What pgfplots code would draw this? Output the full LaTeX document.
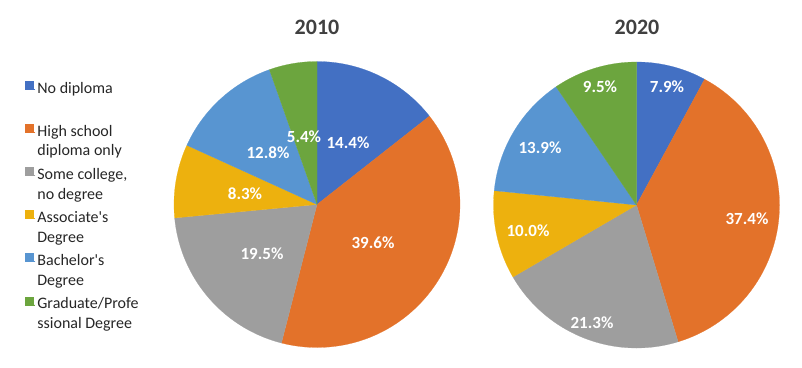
\documentclass[border=0pt]{standalone}
\usepackage{pgfplots}
\usepackage{pgfplotstable}
\pgfplotsset{compat=1.18}
\usepackage{fontspec}
\setmainfont{Carlito}
\definecolor{cNo}{HTML}{4370C3}
\definecolor{cHS}{HTML}{E3722A}
\definecolor{cSC}{HTML}{9E9E9E}
\definecolor{cAs}{HTML}{EDB10E}
\definecolor{cBa}{HTML}{5895D1}
\definecolor{cGr}{HTML}{6CA53E}
\definecolor{titlegray}{HTML}{404040}
\definecolor{legtext}{HTML}{262626}

% label positions (pixels) and values
\pgfplotstableread{
x   y   v
348 143 14.4
373 243 39.6
262 254 19.5
245 194 8.3
268 153 12.8
304 137 5.4
}\labA
\pgfplotstableread{
x   y   v
667 87  7.9
747 219 37.4
592 323 21.3
528 231 10.0
540 148 13.9
600 87  9.5
}\labB

% slice: cx, cy, from(%), to(%), colour
\newcommand\slice[5]{%
\addplot[fill=#5, draw=#5, line width=0.2pt, domain=#3:#4, samples=60, variable=\t]
  ({#1+143*sin(3.6*\t)}, {#2-143*cos(3.6*\t)}) -- (axis cs:#1,#2) -- cycle;}
\newcommand\sliceF[5]{%
\addplot[forget plot, fill=#5, draw=#5, line width=0.2pt, domain=#3:#4, samples=60, variable=\t]
  ({#1+143*sin(3.6*\t)}, {#2-143*cos(3.6*\t)}) -- (axis cs:#1,#2) -- cycle;}

\begin{document}
\begin{tikzpicture}
\useasboundingbox (0,0) rectangle (802pt,367pt);
\begin{axis}[
  at={(0,0)}, anchor=south west,
  x=1pt, y=1pt, xmin=0, xmax=802, ymin=0, ymax=367, y dir=reverse,
  hide axis, clip=false,
  legend image code/.code={\fill[#1] (0pt,9pt) rectangle (8pt,17pt);
    \path (0pt,9pt) -- (10pt,9pt);},
  legend style={at={(axis cs:25,80)}, anchor=north west, draw=none, fill=none,
    font=\fontsize{16}{19.5}\selectfont, text=legtext, row sep=7pt,
    inner xsep=0pt, inner ysep=0pt,
    cells={anchor=base west, align=left}},
  legend cell align=left,
]
% 2010
\slice{317}{204.5}{0}{14.4}{cNo}
\addlegendentry{No diploma\\\strut}
\slice{317}{204.5}{14.4}{54.0}{cHS}
\addlegendentry{High school\\diploma only}
\slice{317}{204.5}{54.0}{73.5}{cSC}
\addlegendentry{Some college,\\no degree}
\slice{317}{204.5}{73.5}{81.8}{cAs}
\addlegendentry{Associate\textquotesingle s\\Degree}
\slice{317}{204.5}{81.8}{94.6}{cBa}
\addlegendentry{Bachelor\textquotesingle s\\Degree}
\slice{317}{204.5}{94.6}{100}{cGr}
\addlegendentry{Graduate/Profe\\ssional Degree}
% 2020
\sliceF{636.5}{205}{0}{7.9}{cNo}
\sliceF{636.5}{205}{7.9}{45.3}{cHS}
\sliceF{636.5}{205}{45.3}{66.6}{cSC}
\sliceF{636.5}{205}{66.6}{76.6}{cAs}
\sliceF{636.5}{205}{76.6}{90.5}{cBa}
\sliceF{636.5}{205}{90.5}{100}{cGr}
% data labels
\pgfplotsset{every node near coord/.style={anchor=center, text=white,
  font=\bfseries\fontsize{17}{20}\selectfont},
  /pgf/number format/.cd, fixed, fixed zerofill, precision=1, assume math mode=true}
\addplot[forget plot, draw=none, mark=none, point meta=explicit,
  nodes near coords={\pgfmathprintnumber{\pgfplotspointmeta}\%}]
  table[x=x, y=y, meta=v] {\labA};
\addplot[forget plot, draw=none, mark=none, point meta=explicit,
  nodes near coords={\pgfmathprintnumber{\pgfplotspointmeta}\%}]
  table[x=x, y=y, meta=v] {\labB};
% titles
\node[font=\bfseries\fontsize{22}{26}\selectfont, text=titlegray] at (axis cs:317,27) {2010};
\node[font=\bfseries\fontsize{22}{26}\selectfont, text=titlegray] at (axis cs:637,27) {2020};
\end{axis}
\end{tikzpicture}
\end{document}
